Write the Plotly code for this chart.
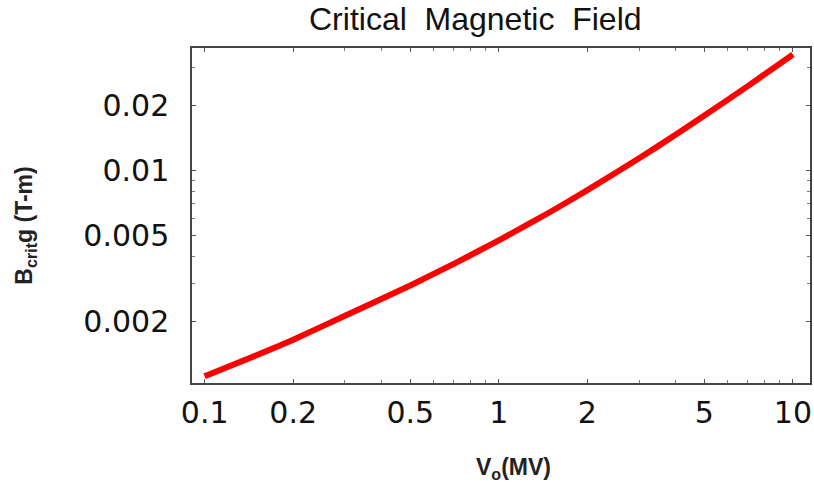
import plotly.graph_objects as go

# Values
v0_mv = [0.1, 0.15, 0.2, 0.3, 0.5, 0.7, 1.0, 1.5, 2.0, 3.0, 4.0, 5.0, 7.0, 10.0]
bcrit_g = [0.00111, 0.00139, 0.00164, 0.00212, 0.00293, 0.00368, 0.00474, 0.00644,
           0.00811, 0.0114, 0.0147, 0.0180, 0.0246, 0.0346]

x_tickvals = [0.1, 0.2, 0.5, 1, 2, 5, 10]
x_ticktext = ["0.1", "0.2", "0.5", "1", "2", "5", "10"]
x_minor = [0.3, 0.4, 0.6, 0.7, 0.8, 0.9, 3, 4, 6, 7, 8, 9]
y_tickvals = [0.002, 0.005, 0.01, 0.02]
y_ticktext = ["0.002", "0.005", "0.01", "0.02"]
y_minor = [0.003, 0.004, 0.006, 0.007, 0.008, 0.009, 0.03]

title_text = "Critical&nbsp; Magnetic&nbsp; Field"
x_title = "<b>V<sub>o</sub>(MV)</b>"
y_title = "<b>B<sub>crit</sub>g (T-m)</b>"

fig = go.Figure()
fig.add_trace(go.Scatter(
    x=v0_mv, y=bcrit_g, mode="lines",
    line=dict(color="#ff0000", width=6, shape="spline", smoothing=0.5),
    showlegend=False, hoverinfo="skip",
))

axis_common = dict(
    type="log", showgrid=False, zeroline=False, automargin=False,
    showline=True, linecolor="#444444", linewidth=1.5, mirror="ticks",
    ticks="inside", ticklen=4, tickwidth=1, tickcolor="#555555",
    tickfont=dict(family="DejaVu Sans", size=30, color="#111111"),
)

fig.update_layout(
    width=814, height=489,
    margin=dict(l=192, r=4, t=48, b=106, autoexpand=False),
    paper_bgcolor="white", plot_bgcolor="white",
    xaxis=dict(
        **axis_common,
        range=[-1.043, 1.058],
        tickvals=x_tickvals, ticktext=x_ticktext,
        ticklabelstandoff=2,
        minor=dict(tickvals=x_minor, ticks="inside", ticklen=3, tickcolor="#777777", tickwidth=1),
    ),
    yaxis=dict(
        **axis_common,
        range=[-2.986, -1.431],
        tickvals=y_tickvals, ticktext=y_ticktext,
        ticklabelstandoff=15,
        minor=dict(tickvals=y_minor, ticks="inside", ticklen=3, tickcolor="#777777", tickwidth=1),
    ),
    annotations=[
        dict(text=title_text, xref="paper", yref="paper", x=0.459, y=1.087,
             xanchor="center", yanchor="middle", showarrow=False,
             font=dict(family="Liberation Sans", size=32, color="#111111")),
        dict(text=x_title, xref="paper", yref="paper", x=0.521, y=-0.255,
             xanchor="center", yanchor="middle", showarrow=False,
             font=dict(family="Liberation Sans", size=23, color="#222222")),
        dict(text=y_title, xref="paper", yref="paper", x=-0.269, y=0.469,
             xanchor="center", yanchor="middle", showarrow=False, textangle=-90,
             font=dict(family="Liberation Sans", size=23, color="#222222")),
    ],
)

fig.write_html(
    "out.html",
    config={"displayModeBar": False},
    post_script="document.body.style.margin='0';document.body.style.overflow='hidden';",
)
